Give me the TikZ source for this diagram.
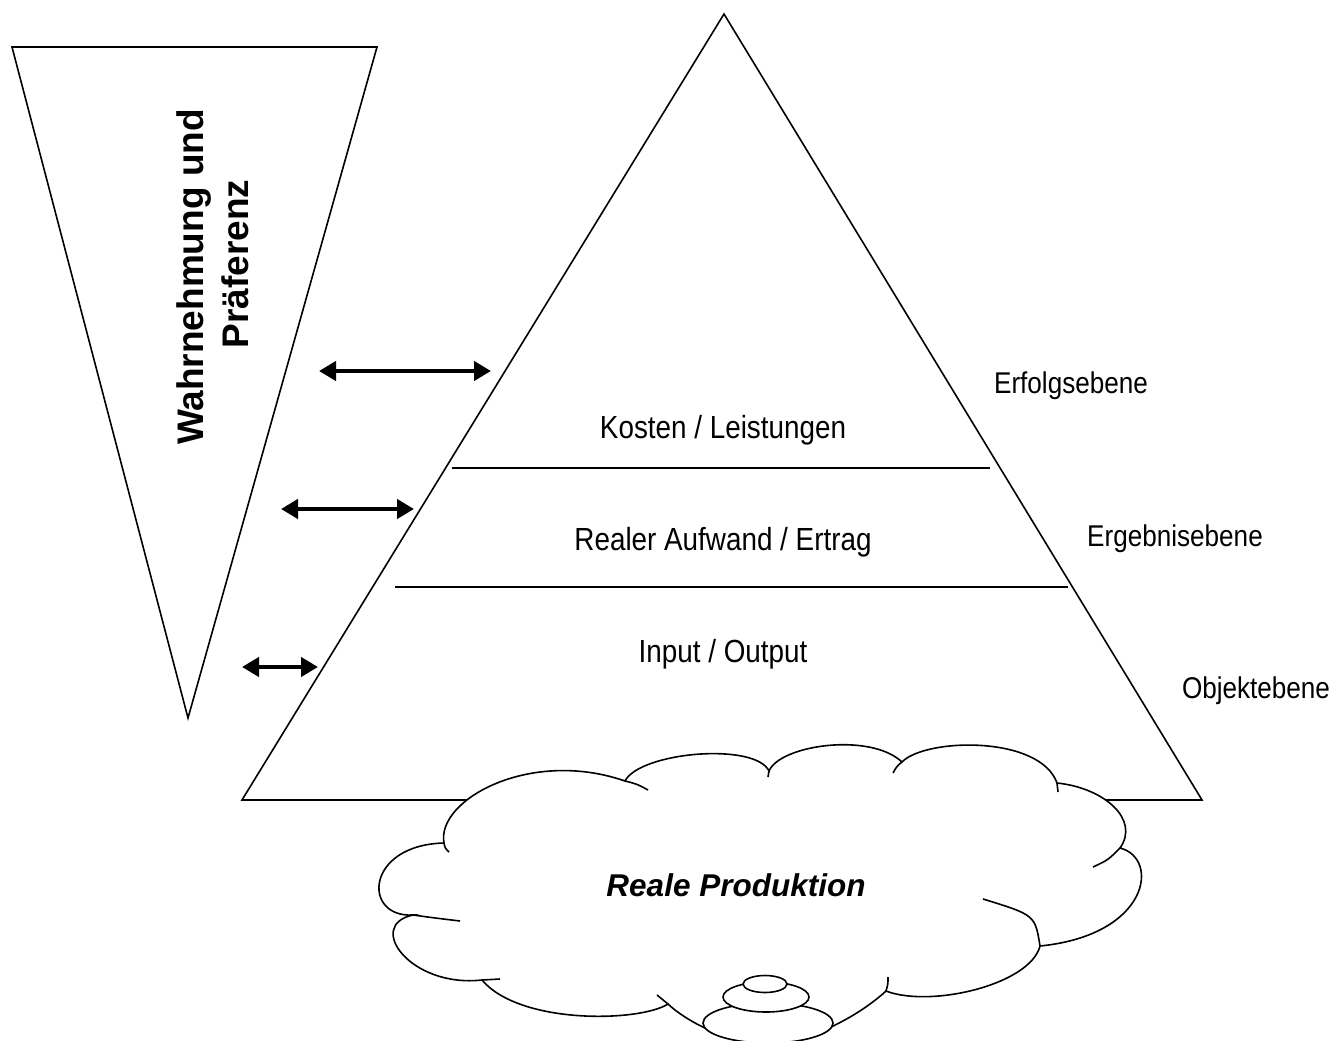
\documentclass[tikz,border=0pt]{standalone}
\usepackage{fontspec}
\setmainfont{Liberation Sans}
\newfontfamily\narrowfont{Liberation Sans}[FakeStretch=0.87]
\usetikzlibrary{arrows.meta}
\begin{document}
\begin{tikzpicture}[x=1pt,y=-1pt,
  shapeline/.style={line width=1.6pt, line join=miter},
  levelline/.style={line width=1.4pt},
  dblarrow/.style={line width=4.5pt, {Triangle[length=17pt,width=19pt]}-{Triangle[length=17pt,width=19pt]}},
  lbl/.style={font=\narrowfont\fontsize{32}{38}\selectfont, anchor=base, inner sep=0pt},
  sidelbl/.style={font=\narrowfont\fontsize{30}{36}\selectfont, anchor=base, inner sep=0pt},
  vlbl/.style={font=\bfseries\fontsize{37}{44}\selectfont, anchor=base, inner sep=0pt, rotate=90},
  cloudlbl/.style={font=\bfseries\itshape\fontsize{31.5}{38}\selectfont, anchor=base, inner sep=0pt}
]
\useasboundingbox (0,0) rectangle (1333,1041);
% inverted triangle
\coordinate (vl) at (12,47);
\coordinate (vr) at (377,47);
\coordinate (vb) at (188,718);
\draw[shapeline] (vl) -- (vr) -- (vb) -- cycle;
% main pyramid
\coordinate (pt) at (724,14);
\coordinate (pl) at (242,800);
\coordinate (pr) at (1202,800);
\draw[shapeline] (pt) -- (pr) -- (pl) -- cycle;
% level lines
\coordinate (l1a) at (452,468); \coordinate (l1b) at (990,468);
\coordinate (l2a) at (395,587); \coordinate (l2b) at (1068,587);
\draw[levelline] (l1a) -- (l1b);
\draw[levelline] (l2a) -- (l2b);
% arrows
\coordinate (a1l) at (319,371); \coordinate (a1r) at (491,371);
\coordinate (a2l) at (281,509); \coordinate (a2r) at (414,509);
\coordinate (a3l) at (242,667); \coordinate (a3r) at (318,667);
\draw[dblarrow] (a1l) -- (a1r);
\draw[dblarrow] (a2l) -- (a2r);
\draw[dblarrow] (a3l) -- (a3r);
% texts
\node[vlbl] (wahr) at (203,277) {Wahrnehmung und};
\node[vlbl] (praef) at (248,264) {Präferenz};
\node[lbl] (kosten) at (723,438) {Kosten / Leistungen};
\node[lbl] (realer) at (723,550) {Realer Aufwand / Ertrag};
\node[lbl] (inout) at (723,662) {Input / Output};
\node[sidelbl] (erfolg) at (1071,393) {Erfolgsebene};
\node[sidelbl] (ergeb) at (1175,546) {Ergebnisebene};
\node[sidelbl] (objekt) at (1256,698) {Objektebene};
% cloud
\draw[shapeline, fill=white]
 (413,915) .. controls (362,918) and (365,845) .. (444,843)
 .. controls (436,800) and (530,748) .. (625,781)
 .. controls (640,752) and (755,742) .. (769,771)
 .. controls (780,745) and (870,732) .. (902,762)
 .. controls (925,738) and (1040,735) .. (1057,783)
 .. controls (1105,788) and (1140,820) .. (1120,848)
 .. controls (1160,858) and (1150,935) .. (1040,946)
 .. controls (1030,985) and (930,1008) .. (886,991)
 .. controls (860,1015) and (810,1043) .. (768,1043)
 .. controls (725,1043) and (685,1020) .. (668,1004)
 .. controls (640,1022) and (520,1025) .. (482,980)
 .. controls (410,988) and (365,925) .. (413,915) -- cycle;
\draw[shapeline] (413,915) .. controls (435,918) .. (460,921);
\draw[shapeline] (444,843) .. controls (445,848) .. (449,852);
\draw[shapeline] (625,781) .. controls (637,784) .. (648,790);
\draw[shapeline] (769,771) -- (768,777);
\draw[shapeline] (902,762) .. controls (897,766) .. (893,773);
\draw[shapeline] (1057,783) .. controls (1058,788) .. (1058,792);
\draw[shapeline] (1120,848) .. controls (1108,860) .. (1093,867);
\draw[shapeline] (983,899) .. controls (1035,915) .. (1040,946);
\draw[shapeline] (886,991) .. controls (888,984) .. (888,977);
\draw[shapeline] (668,1004) .. controls (663,1000) .. (657,995);
\draw[shapeline] (482,980) -- (500,979);
% callout bubbles
\draw[shapeline, fill=white] (768,1023) ellipse [x radius=65, y radius=20];
\draw[shapeline, fill=white] (766,997) ellipse [x radius=43, y radius=15];
\draw[shapeline, fill=white] (765,984) ellipse [x radius=22, y radius=8.5];
\node[cloudlbl] (reale) at (736,896) {Reale Produktion};
\end{tikzpicture}
\end{document}
